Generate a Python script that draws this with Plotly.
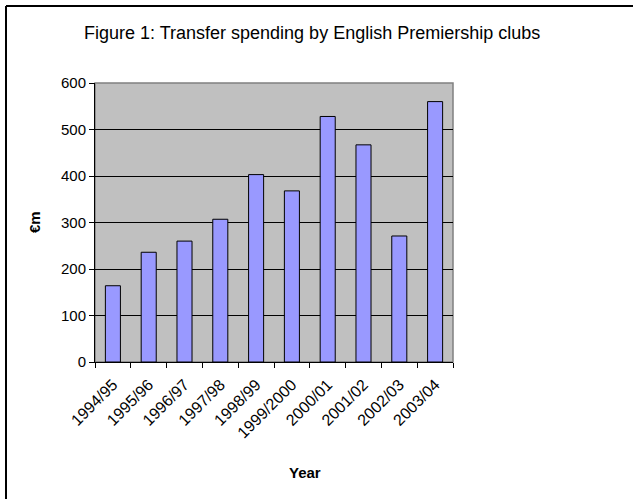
import plotly.graph_objects as go

years = ["1994/95", "1995/96", "1996/97", "1997/98", "1998/99", "1999/2000",
         "2000/01", "2001/02", "2002/03", "2003/04"]
spending = [164, 236, 260, 307, 403, 368, 528, 467, 271, 560]
y_ticks = [0, 100, 200, 300, 400, 500, 600]

W, H = 633, 499
L, R, T, B = 95, 180, 83, 137
pw, ph = W - L - R, H - T - B

def px(x):
    return (x - L) / pw

def py(y):
    return (H - B - y) / ph

font = "Liberation Sans, Arial, sans-serif"

fig = go.Figure(go.Bar(
    x=years, y=spending,
    marker=dict(color="#9999FF", line=dict(color="black", width=1)),
    width=0.42,
))

fig.update_layout(
    width=W, height=H,
    margin=dict(l=L, r=R, t=T, b=B),
    paper_bgcolor="white",
    plot_bgcolor="#C0C0C0",
    showlegend=False,
    font=dict(family=font, color="black", size=15),
    xaxis=dict(
        type="category", tickangle=-45, showgrid=False,
        showline=True, linecolor="black", linewidth=1,
        ticks="outside", tickson="boundaries", ticklen=5, tickcolor="black",
        tickfont=dict(size=16), range=[-0.5, 9.5], ticklabelstandoff=6,
    ),
    yaxis=dict(
        range=[0, 600], tickvals=y_ticks, showgrid=True, gridcolor="black",
        gridwidth=1, showline=True, linecolor="black", linewidth=1,
        ticks="outside", ticklen=5, tickcolor="black", zeroline=False,
        tickfont=dict(size=15),
    ),
    shapes=[
        dict(type="rect", xref="paper", yref="paper", x0=0, x1=1, y0=0, y1=1,
             line=dict(color="#808080", width=1.5), layer="below"),
        dict(type="line", xref="paper", yref="paper",
             x0=px(6), x1=px(6), y0=py(6), y1=py(H + 10),
             line=dict(color="black", width=2)),
        dict(type="line", xref="paper", yref="paper",
             x0=px(6), x1=px(W + 10), y0=py(6), y1=py(6),
             line=dict(color="black", width=2)),
    ],
    annotations=[
        dict(text="Figure 1: Transfer spending by English Premiership clubs",
             xref="paper", yref="paper", x=px(312), y=py(33),
             showarrow=False, font=dict(size=18), xanchor="center", yanchor="middle"),
        dict(text="<b>€m</b>", xref="paper", yref="paper", x=px(34), y=py(222),
             showarrow=False, textangle=-90, font=dict(size=15),
             xanchor="center", yanchor="middle"),
        dict(text="<b>Year</b>", xref="paper", yref="paper", x=px(305), y=py(472),
             showarrow=False, font=dict(size=15), xanchor="center", yanchor="middle"),
    ],
)

fig.write_html("out.html")
